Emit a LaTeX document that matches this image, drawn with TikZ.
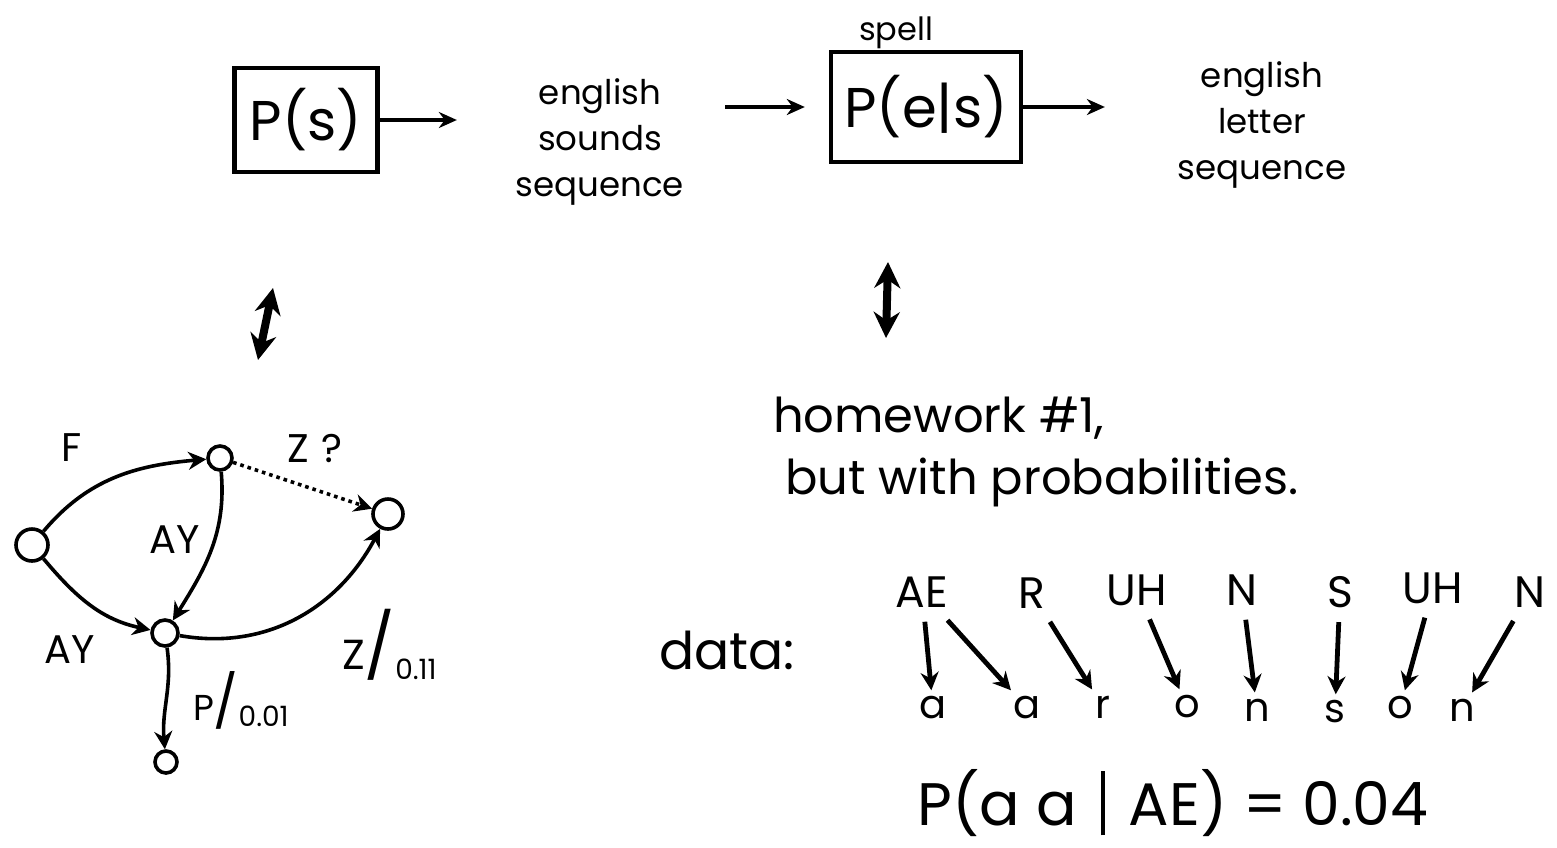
\documentclass[tikz,border=0pt]{standalone}
\usepackage{fontspec}
\setmainfont{Poppins}
\usetikzlibrary{arrows.meta,positioning}

\begin{document}
\begin{tikzpicture}[x=0.5pt,y=0.5pt,
    box/.style={draw, line width=2.2pt, inner sep=0pt},
    hand/.style={font=\fontsize{17}{23}\selectfont, align=center},
    flow/.style={-{Stealth[length=9pt,width=8pt]}, line width=2.4pt},
    dbl/.style={{Stealth[length=13pt,width=13pt]}-{Stealth[length=13pt,width=13pt]}, line width=4pt},
    state/.style={circle, draw, line width=1.8pt, minimum size=13pt, inner sep=0pt},
    edge/.style={-{Stealth[length=9pt,width=9pt]}, line width=1.8pt},
    lbl/.style={font=\fontsize{20}{20}\selectfont},
    snd/.style={font=\fontsize{22}{22}\selectfont, inner sep=4pt},
    ltr/.style={font=\fontsize{20}{20}\selectfont, inner sep=3pt},
    align arrow/.style={-{Stealth[length=9pt,width=9pt]}, line width=2.4pt, shorten <=3pt}]
    \useasboundingbox (0,0) rectangle (1557,-847);

    % Noisy channel: P(s) -> sounds -> P(e|s) -> letters
    \node[box, minimum width=71.5pt, minimum height=52pt, font=\fontsize{28}{28}\selectfont] (ps) at (306,-120) {P(s)};
    \node[hand] (sounds) at (600,-142) {english\\sounds\\sequence};
    \node[box, minimum width=95pt, minimum height=55pt, font=\fontsize{28}{28}\selectfont] (pes) at (926,-107) {P(e|s)};
    \node[font=\fontsize{16}{16}\selectfont] (spell) at (896,-33) {spell};
    \node[hand] (letters) at (1262,-125) {english\\letter\\sequence};

    \draw[flow, shorten >=26pt] (ps.east) -- (ps.east -| sounds.west);
    \draw[flow, shorten <=17pt, shorten >=12pt] (sounds.east |- pes.west) -- (pes.west);
    \draw[flow, shorten >=33pt] (pes.east) -- (pes.east -| letters.west);

    % Two-way links to what each model stands for
    \coordinate (fsmtop) at (273,-288);
    \coordinate (fsmbot) at (258,-360);
    \draw[dbl] (fsmbot) -- (fsmtop);
    \coordinate (hwtop) at (888,-262);
    \coordinate (hwbot) at (886,-338);
    \draw[dbl] (hwbot) -- (hwtop);

    % Sound model as a small automaton
    \node[state, minimum size=16pt] (q0) at (32,-545) {};
    \node[state, minimum size=12pt] (q1) at (220,-458) {};
    \node[state] (q2) at (165,-633) {};
    \node[state, minimum size=15pt] (q3) at (388,-514) {};
    \node[state, minimum size=11pt] (q4) at (166,-762) {};

    \draw[edge] (q0) to[out=50, in=185] (q1);
    \draw[edge] (q0) to[out=-50, in=168] (q2);
    \draw[edge] (q1) to[out=-85, in=58] (q2);
    \draw[edge, dotted] (q1) -- (q3);
    \draw[edge] (q2) to[out=-10, in=-118] (q3);
    \draw[edge] (q2) to[out=-82, in=95] (q4);

    \node[lbl] (lf) at (72,-448) {F};
    \node[lbl] (lzq) at (315,-448) {Z\hspace{6pt}?};
    \node[lbl] (lay1) at (175,-540) {AY};
    \node[lbl] (lay2) at (70,-650) {AY};
    \node[anchor=west] (lz) at (335,-645) {{\fontsize{21}{21}\selectfont Z}{\fontsize{32}{32}\selectfont /}\raisebox{-5pt}{\fontsize{14}{14}\selectfont 0.11}};
    \node[anchor=west] (lp) at (186,-700) {{\fontsize{18}{18}\selectfont P}{\fontsize{26}{26}\selectfont /}\raisebox{-3pt}{\fontsize{14}{14}\selectfont 0.01}};

    % Spelling model: homework #1 with probabilities
    \node[anchor=west, align=left, font=\fontsize{24}{31}\selectfont] (hw) at (766,-452) {homework \#1,\\\hspace{6pt}but with probabilities.};
    \node[font=\fontsize{26}{26}\selectfont] (data) at (727,-650) {data:};

    % Sound-to-letter alignment
    \node[snd] (ae) at (922,-592) {AE};
    \node[snd] (r) at (1032,-593) {R};
    \node[snd] (uh1) at (1137,-590) {UH};
    \node[snd] (n1) at (1242,-590) {N};
    \node[snd] (s) at (1340,-592) {S};
    \node[snd] (uh2) at (1433,-588) {UH};
    \node[snd] (n2) at (1530,-592) {N};

    \node[ltr] (la1) at (933,-708) {a};
    \node[ltr] (la2) at (1027,-708) {a};
    \node[ltr] (lr) at (1103,-707) {r};
    \node[ltr] (lo1) at (1187,-707) {o};
    \node[ltr] (ln1) at (1257,-710) {n};
    \node[ltr] (ls) at (1335,-712) {s};
    \node[ltr] (lo2) at (1400,-708) {o};
    \node[ltr] (ln2) at (1462,-710) {n};

    \draw[align arrow] (ae) -- (la1);
    \draw[align arrow] (ae) -- (la2);
    \draw[align arrow] (r) -- (lr);
    \draw[align arrow] (uh1) -- (lo1);
    \draw[align arrow] (n1) -- (ln1);
    \draw[align arrow] (s) -- (ls);
    \draw[align arrow] (uh2) -- (lo2);
    \draw[align arrow] (n2) -- (ln2);

    \node[font=\fontsize{30}{30}\selectfont] (paa) at (1173,-803) {P(a a\hspace{12pt}\rule[-5pt]{2pt}{32pt}\hspace{12pt}AE) = 0.04};
\end{tikzpicture}
\end{document}
